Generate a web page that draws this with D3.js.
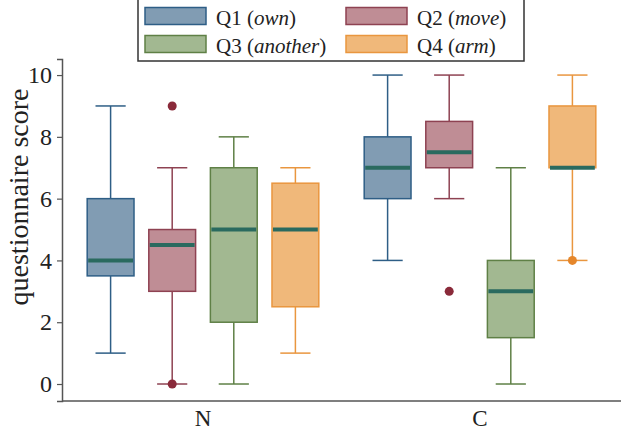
<!DOCTYPE html>
<html>
<head>
<meta charset="utf-8">
<script src="https://cdn.jsdelivr.net/npm/d3@7"></script>
<style>
  html, body { margin: 0; padding: 0; background: #fff; }
  svg { display: block; }
</style>
</head>
<body>
<svg id="chart" width="621" height="432"></svg>
<script>
// ---- data ----
const categories = ["N", "C"];
const series = ["Q1", "Q2", "Q3", "Q4"];
const seriesWords = ["own", "move", "another", "arm"];
// [lower whisker, first quartile, median, third quartile, upper whisker] per category (N, C)
const q1Stats = [[1, 3.5, 4, 6, 9], [4, 6, 7, 8, 10]];
const q2Stats = [[0, 3, 4.5, 5, 7], [6, 7, 7.5, 8.5, 10]];
const q3Stats = [[0, 2, 5, 7, 8], [0, 1.5, 3, 4, 7]];
const q4Stats = [[1, 2.5, 5, 6.5, 7], [4, 7, 7, 9, 10]];
// outliers per category (N, C)
const q1Outliers = [[], []];
const q2Outliers = [[9, 0], [3]];
const q3Outliers = [[], []];
const q4Outliers = [[], [4]];
const yTicks = [0, 2, 4, 6, 8, 10];

const stats = [q1Stats, q2Stats, q3Stats, q4Stats];
const outliers = [q1Outliers, q2Outliers, q3Outliers, q4Outliers];

const fills = ["#819cb3", "#bf8d95", "#a2b891", "#f0b87a"];
const strokes = ["#2e5e86", "#8e4252", "#5f8046", "#e9963f"];
const outlierColors = ["#2e5e86", "#8a2a3a", "#5f8046", "#e5862a"];
const medianColor = "#2a6a5f";
const axisColor = "#555";
const textColor = "#222";
const fontFamily = "'Liberation Serif', 'Times New Roman', serif";

const svg = d3.select("#chart");

const x = d3.scaleBand().domain(categories).range([62, 621]).padding(0.018);
const xs = d3.scalePoint().domain(series).range([0, x.bandwidth()]).padding(0.708);
const boxW = xs.step() * 0.76;
const capW = xs.step() * 0.49;
const y = d3.scaleLinear().domain([-0.55, 10.52]).range([401, 59]);

// axes
const yAxis = svg.append("g")
  .attr("transform", "translate(62,0)")
  .call(d3.axisLeft(y).tickValues(yTicks).tickSize(5).tickPadding(5).tickFormat(d3.format("d")));
yAxis.select(".domain").attr("stroke", axisColor).attr("stroke-width", 1.5);
yAxis.selectAll(".tick line").attr("stroke", axisColor).attr("stroke-width", 1.2);
yAxis.selectAll(".tick text").attr("fill", textColor).style("font-family", fontFamily).style("font-size", "24px");

const xAxis = svg.append("g")
  .attr("transform", "translate(0,401)")
  .call(d3.axisBottom(x).tickSize(0).tickPadding(9));
xAxis.select(".domain").attr("stroke", axisColor).attr("stroke-width", 1.5).attr("d", "M62,0H621");
xAxis.selectAll(".tick text").attr("fill", textColor).style("font-family", fontFamily).style("font-size", "23px");

svg.append("text")
  .attr("transform", `translate(28,197) rotate(-90)`)
  .attr("text-anchor", "middle")
  .attr("fill", textColor)
  .style("font-family", fontFamily)
  .style("font-size", "28px")
  .text("questionnaire score");

// boxes
categories.forEach((cat, ci) => {
  series.forEach((s, si) => {
    const [lo, q1, med, q3, hi] = stats[si][ci];
    const cx = x(cat) + xs(s);
    const g = svg.append("g");
    const stroke = strokes[si];
    // whiskers
    g.append("line").attr("x1", cx).attr("x2", cx).attr("y1", y(hi)).attr("y2", y(q3))
      .attr("stroke", stroke).attr("stroke-width", 1.5);
    g.append("line").attr("x1", cx).attr("x2", cx).attr("y1", y(q1)).attr("y2", y(lo))
      .attr("stroke", stroke).attr("stroke-width", 1.5);
    g.append("line").attr("x1", cx - capW / 2).attr("x2", cx + capW / 2).attr("y1", y(hi)).attr("y2", y(hi))
      .attr("stroke", stroke).attr("stroke-width", 1.5);
    g.append("line").attr("x1", cx - capW / 2).attr("x2", cx + capW / 2).attr("y1", y(lo)).attr("y2", y(lo))
      .attr("stroke", stroke).attr("stroke-width", 1.5);
    // box
    g.append("rect").attr("x", cx - boxW / 2).attr("width", boxW)
      .attr("y", y(q3)).attr("height", y(q1) - y(q3))
      .attr("fill", fills[si]).attr("stroke", stroke).attr("stroke-width", 1.5);
    // median
    g.append("line").attr("x1", cx - boxW / 2 + 1).attr("x2", cx + boxW / 2 - 1)
      .attr("y1", y(med)).attr("y2", y(med))
      .attr("stroke", medianColor).attr("stroke-width", 4);
    // outliers
    outliers[si][ci].forEach(v => {
      g.append("circle").attr("cx", cx).attr("cy", y(v)).attr("r", 4.5).attr("fill", outlierColors[si]);
    });
  });
});

// legend
const legend = svg.append("g");
legend.append("rect").attr("x", 138).attr("y", -1).attr("width", 386).attr("height", 62)
  .attr("fill", "#fff").attr("stroke", "#333").attr("stroke-width", 1.5);
const legendCols = [0, 201];
const legendRows = [0, 28];
series.forEach((s, si) => {
  const col = legendCols[si % 2];
  const row = legendRows[Math.floor(si / 2)];
  legend.append("rect").attr("x", 145 + col).attr("y", 7.5 + row).attr("width", 61).attr("height", 17)
    .attr("fill", fills[si]).attr("stroke", strokes[si]).attr("stroke-width", 1.5);
  const t = legend.append("text").attr("x", 216 + col).attr("y", 24.5 + row)
    .attr("fill", textColor).style("font-family", fontFamily).style("font-size", "21px");
  t.append("tspan").text(s + " (");
  t.append("tspan").style("font-style", "italic").text(seriesWords[si]);
  t.append("tspan").text(")");
});
</script>
</body>
</html>
